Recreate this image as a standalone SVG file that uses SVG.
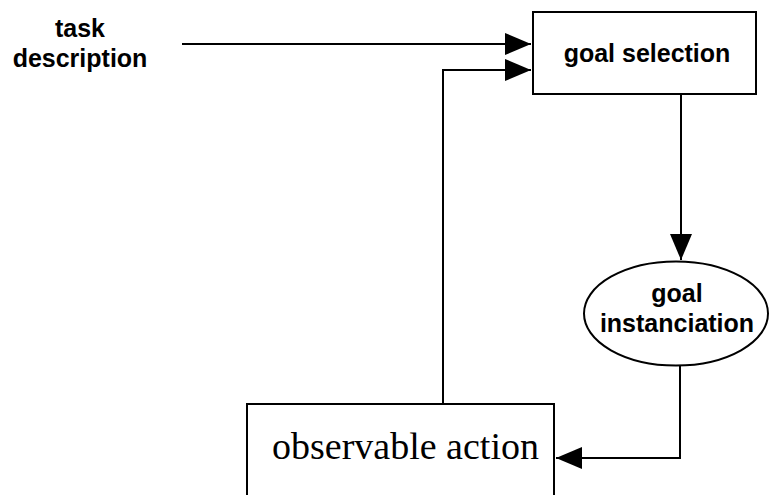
<svg xmlns="http://www.w3.org/2000/svg" width="770" height="495" viewBox="0 0 770 495">
  <defs>
    <marker id="arrow" markerUnits="userSpaceOnUse" markerWidth="26" markerHeight="22" refX="26" refY="11" orient="auto">
      <path d="M0,0 L26,11 L0,22 Z" fill="#000"/>
    </marker>
    <style>
      .shape { fill: #fff; stroke: #000; stroke-width: 2; }
      .edge { fill: none; stroke: #000; stroke-width: 2; marker-end: url(#arrow); }
      .label { font-family: "Liberation Sans", Arial, sans-serif; font-weight: bold; font-size: 25px; fill: #000; text-anchor: middle; }
      .serif { font-family: "Liberation Serif", "Times New Roman", serif; font-size: 38px; fill: #000; }
    </style>
  </defs>
  <rect width="770" height="495" fill="#fff"/>

  <g id="task-description">
    <text class="label" x="80" y="37">task</text>
    <text class="label" x="80" y="67">description</text>
  </g>

  <g id="goal-selection">
    <rect class="shape" x="533" y="12" width="223" height="82"/>
    <text class="label" x="647" y="62">goal selection</text>
  </g>

  <g id="goal-instanciation">
    <ellipse class="shape" cx="676" cy="313.5" rx="92" ry="52"/>
    <text class="label" x="677" y="302">goal</text>
    <text class="label" x="677" y="332">instanciation</text>
  </g>

  <g id="observable-action">
    <rect class="shape" x="247" y="404" width="307" height="120"/>
    <text class="serif" x="272" y="459">observable action</text>
  </g>

  <g id="connectors">
    <path class="edge" d="M182,44 H531"/>
    <path class="edge" d="M443,404 V70 H531"/>
    <path class="edge" d="M681,94 V260"/>
    <path class="edge" d="M680,366 V458 H556"/>
  </g>
</svg>
